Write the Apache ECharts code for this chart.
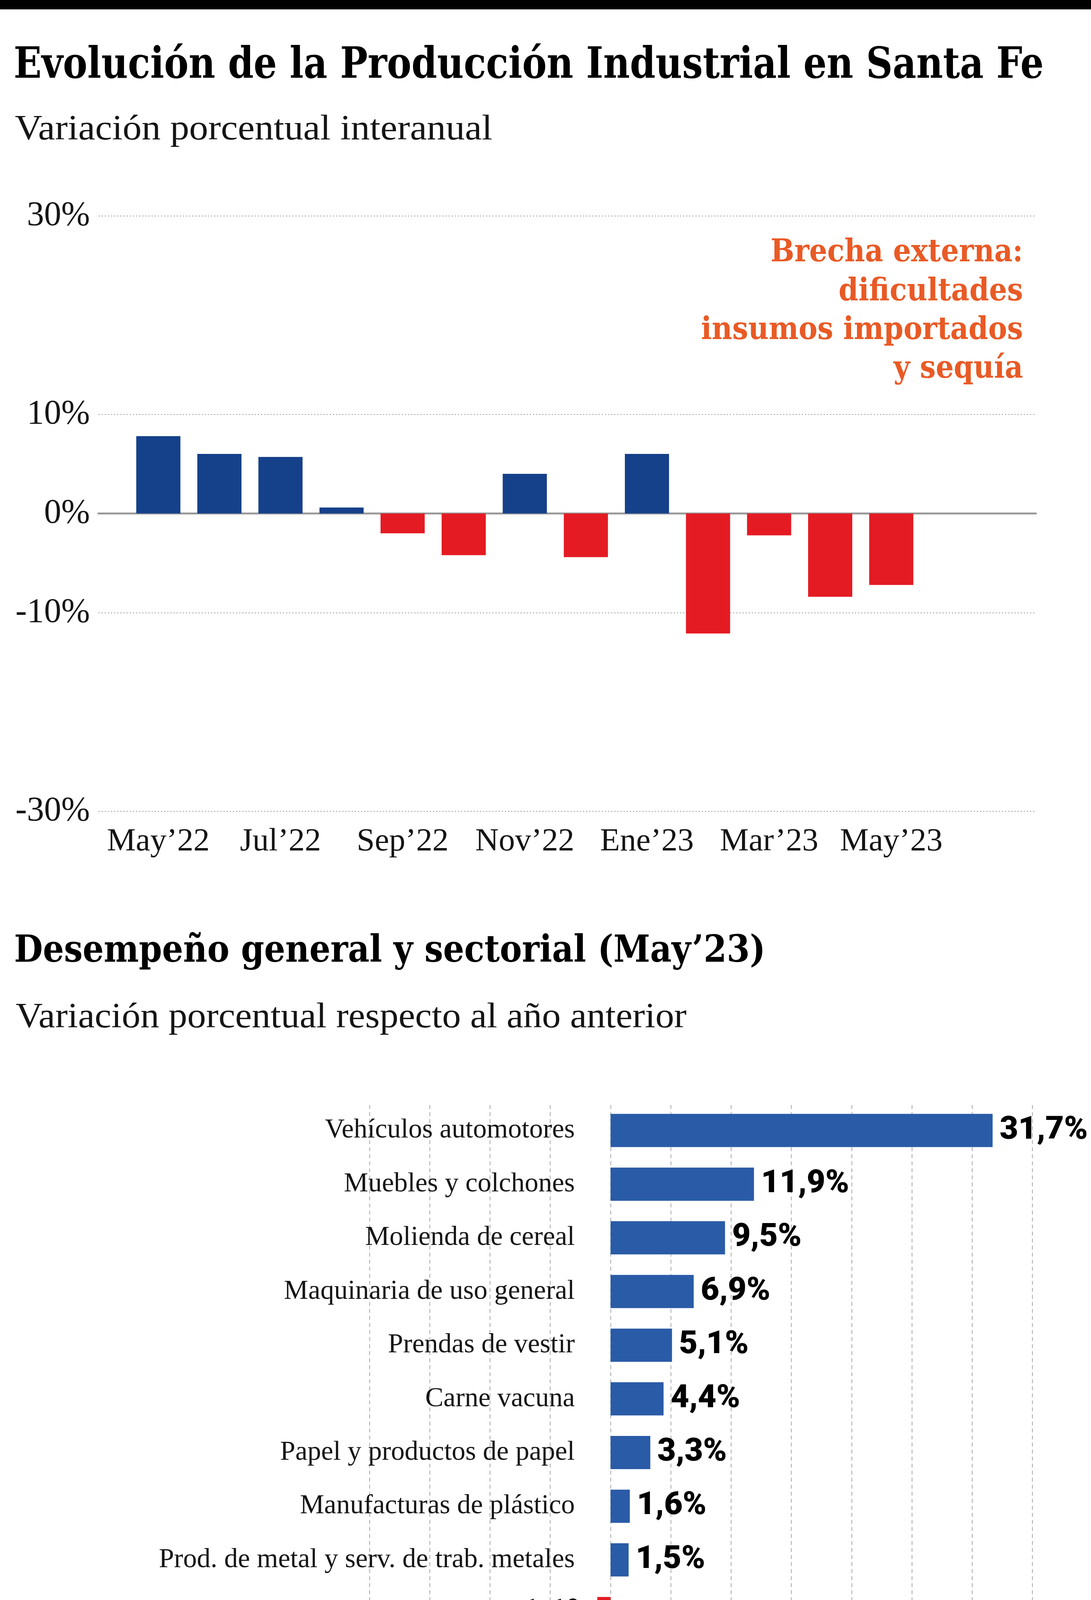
<!DOCTYPE html>
<html>
<head>
<meta charset="utf-8">
<script src="https://cdn.jsdelivr.net/npm/echarts@6.0.0/dist/echarts.min.js"></script>
<style>
  html, body { margin: 0; padding: 0; background: #fff; }
  #chart { width: 2792px; height: 5968px; }
</style>
</head>
<body>
<div id="chart"></div>
<script>
  /* data: evolución mensual */
  var months = ['May’22', 'Jun’22', 'Jul’22', 'Ago’22', 'Sep’22', 'Oct’22', 'Nov’22',
                'Dic’22', 'Ene’23', 'Feb’23', 'Mar’23', 'Abr’23', 'May’23'];
  var monthlyChange = [7.8, 6.0, 5.7, 0.6, -2.0, -4.2, 4.0, -4.4, 6.0, -12.1, -2.2, -8.4, -7.2];
  var yTickLabels = [30, 10, 0, -10, -30];

  /* data: desempeño sectorial May'23 */
  var sectors = [
    'Vehículos automotores', 'Muebles y colchones', 'Molienda de cereal',
    'Maquinaria de uso general', 'Prendas de vestir', 'Carne vacuna',
    'Papel y productos de papel', 'Manufacturas de plástico',
    'Prod. de metal y serv. de trab. metales', 'Maquinaria de uso especial',
    'Autopartes', 'Fiambres y embutidos', 'Prod. metálicos para estruc.',
    'Edición e impresión', 'Industria siderúrgica', 'Productos lácteos',
    'IND. PRODUC. INDUSTRIAL', 'Maquinaria agropecuaria',
    'Carrocerías, remolques y semi', 'Molienda de oleaginosas'
  ];
  var sectorChange = [31.7, 11.9, 9.5, 6.9, 5.1, 4.4, 3.3, 1.6, 1.5, -1.1,
                      -2.6, -4.7, -5.0, -5.3, -5.7, -6.0, -6.0, -6.2, -11.4, -17.4];

  var SERIF = '"Liberation Serif", "DejaVu Serif", serif';
  var SLAB = '"DejaVu Serif", "Liberation Serif", serif';
  var SANS = 'Roboto, "Liberation Sans", sans-serif';
  var BLUE_DARK = '#15408a';
  var BLUE = '#2a5ba7';
  var RED = '#e41b23';
  var ORANGE = '#e95a25';
  var INK = '#151515';

  var measureCtx = document.createElement('canvas').getContext('2d');
  function fit(text, weight, size, family, width) {
    measureCtx.font = weight + ' ' + size + 'px ' + family;
    return width / measureCtx.measureText(text).width;
  }

  // text block squeezed horizontally to the width it takes in the original
  function headText(text, x, y, size, weight, family, color, width, align, scale) {
    return {
      type: 'text',
      x: x,
      y: y,
      scaleX: scale || fit(text, weight, size, family, width),
      silent: true,
      style: {
        text: text, x: 0, y: 0,
        fill: color,
        fontSize: size, fontWeight: weight, fontFamily: family,
        align: align || 'left', textAlign: align || 'left',
        verticalAlign: 'middle', textVerticalAlign: 'middle'
      }
    };
  }

  var noteLines = ['Brecha externa:', 'dificultades', 'insumos importados', 'y sequía'];
  var noteScale = fit('insumos importados', 'bold', 80, SLAB, 824);
  var noteY = [648, 748, 847, 946];

  var graphics = [
    { type: 'rect', shape: { x: 0, y: 0, width: 2792, height: 24 }, style: { fill: '#000' } },
    headText('Evolución de la Producción Industrial en Santa Fe', 35, 170, 110, 'bold', SLAB, '#000', 2636),
    headText('Variación porcentual interanual', 38, 333, 90, 'normal', SERIF, INK, 1222),
    headText('Desempeño general y sectorial (May’23)', 36, 2437, 95, 'bold', SLAB, '#000', 1923),
    headText('Variación porcentual respecto al año anterior', 40, 2606, 90, 'normal', SERIF, INK, 1717),
    { type: 'rect', shape: { x: 0, y: 5809, width: 2792, height: 3 }, style: { fill: '#666' } },
    headText('FUENTE: FISFE EN BASE A DATOS DE INDEC, MINISTERIO DE AGRICULTURA', 62, 5887, 51, 'normal', SERIF, '#333', 1615),
    headText('Y PESCA, CÁMARAS SECTORIALES Y EMPRESAS', 62, 5945, 51, 'normal', SERIF, '#333', 1024),
    headText('INFOGRAFÍA', 2443, 5918, 40, 'bold', SLAB, '#000', 274, 'right'),
    headText('LA CAPITAL', 2760, 5915, 47, 'bold', SLAB, '#000', 297, 'right')
  ];
  noteLines.forEach(function (line, i) {
    graphics.push(headText(line, 2618, noteY[i], 80, 'bold', SLAB, ORANGE, 0, 'right', noteScale));
  });

  function pct(v) {
    return v.toFixed(1).replace('.', ',') + '%';
  }

  // all-caps names get a smaller size so they keep the original width
  function sectorName(v) {
    return /[a-z]/.test(v) ? v : '{caps|' + v + '}';
  }

  var sectorData = sectorChange.map(function (v) {
    var label;
    if (v < -15) {
      label = { position: 'insideLeft', distance: 17, color: '#fff' };
    } else if (v < 0) {
      label = { position: 'left', distance: 18, color: '#000' };
    } else {
      label = { position: 'right', distance: 18, color: '#000' };
    }
    return { value: v, itemStyle: { color: v >= 0 ? BLUE : RED }, label: label };
  });

  var chart = echarts.init(document.getElementById('chart'), null, { renderer: 'canvas' });
  chart.setOption({
    animation: false,
    backgroundColor: '#fff',
    graphic: graphics,
    grid: [
      { left: 252, width: 2399, top: 552.5, height: 1524, containLabel: false, outerBoundsMode: 'none' },
      { left: 327, width: 2032, top: 552.5, height: 1524, containLabel: false, outerBoundsMode: 'none' },
      { left: 945.5, width: 1696.5, top: 2829, height: 2827, containLabel: false, outerBoundsMode: 'none' },
      { left: 945.5, width: 1696.5, top: 2825.3, height: 2748.4, containLabel: false, outerBoundsMode: 'none' }
    ],
    xAxis: [
      {
        gridIndex: 0, type: 'value', min: 0, max: 1,
        axisLabel: { show: false }, axisTick: { show: false }, splitLine: { show: false },
        axisLine: { show: true, onZero: true, lineStyle: { color: '#9b9b9b', width: 5 } }
      },
      {
        gridIndex: 1, type: 'category', data: months,
        axisLine: { show: false }, axisTick: { show: false },
        axisLabel: { interval: 1, fontFamily: SERIF, fontSize: 83, color: INK, margin: 37 }
      },
      {
        gridIndex: 2, type: 'value', min: -20, max: 35, interval: 5,
        axisLine: { show: true, onZero: false, lineStyle: { color: '#111', width: 6 } },
        axisTick: { show: false },
        axisLabel: { fontFamily: SERIF, fontSize: 80, color: INK, margin: 50 },
        splitLine: { show: true, lineStyle: { color: '#aaa', width: 2, type: [10, 8] } }
      },
      { gridIndex: 3, type: 'value', min: -20, max: 35, show: false }
    ],
    yAxis: [
      {
        gridIndex: 0, type: 'value', min: -30, max: 30, interval: 10,
        axisLine: { show: false }, axisTick: { show: false },
        axisLabel: {
          fontFamily: SERIF, fontSize: 88, color: INK, margin: 22,
          formatter: function (v) { return yTickLabels.indexOf(v) >= 0 ? v + '%' : ''; }
        },
        splitLine: {
          show: true,
          lineStyle: {
            color: ['#9a9a9a', 'rgba(0,0,0,0)', '#9a9a9a', '#9a9a9a', '#9a9a9a', 'rgba(0,0,0,0)', '#9a9a9a'],
            width: 2, type: [3, 5]
          }
        }
      },
      { gridIndex: 1, type: 'value', min: -30, max: 30, show: false },
      { gridIndex: 2, type: 'value', min: 0, max: 1, show: false },
      {
        // labels of the rising sectors sit next to the zero line
        gridIndex: 3, type: 'category', data: sectors, inverse: true,
        position: 'left', offset: -617,
        axisLine: { show: false, onZero: false }, axisTick: { show: false },
        axisLabel: {
          fontFamily: SERIF, fontSize: 70, color: INK, margin: 91.5,
          formatter: function (v, i) { return sectorChange[i] > 0 ? sectorName(v) : ''; },
          rich: { caps: { fontFamily: SERIF, fontSize: 61, color: INK } }
        }
      },
      {
        gridIndex: 3, type: 'category', data: sectors, inverse: true,
        position: 'left',
        axisLine: { show: false, onZero: false }, axisTick: { show: false },
        axisLabel: {
          fontFamily: SERIF, fontSize: 70, color: INK, margin: 52,
          formatter: function (v, i) { return sectorChange[i] < 0 ? sectorName(v) : ''; },
          rich: { caps: { fontFamily: SERIF, fontSize: 61, color: INK } }
        }
      }
    ],
    series: [
      {
        name: 'Variación interanual',
        type: 'bar',
        xAxisIndex: 1,
        yAxisIndex: 1,
        data: monthlyChange,
        barWidth: 113,
        itemStyle: {
          color: function (p) { return p.value >= 0 ? BLUE_DARK : RED; }
        }
      },
      {
        name: 'May’23',
        type: 'bar',
        xAxisIndex: 3,
        yAxisIndex: 3,
        data: sectorData,
        barWidth: 85,
        label: {
          show: true,
          fontFamily: SANS,
          fontWeight: 900,
          fontSize: 82,
          formatter: function (p) { return pct(p.value); }
        }
      }
    ]
  });
</script>
</body>
</html>
